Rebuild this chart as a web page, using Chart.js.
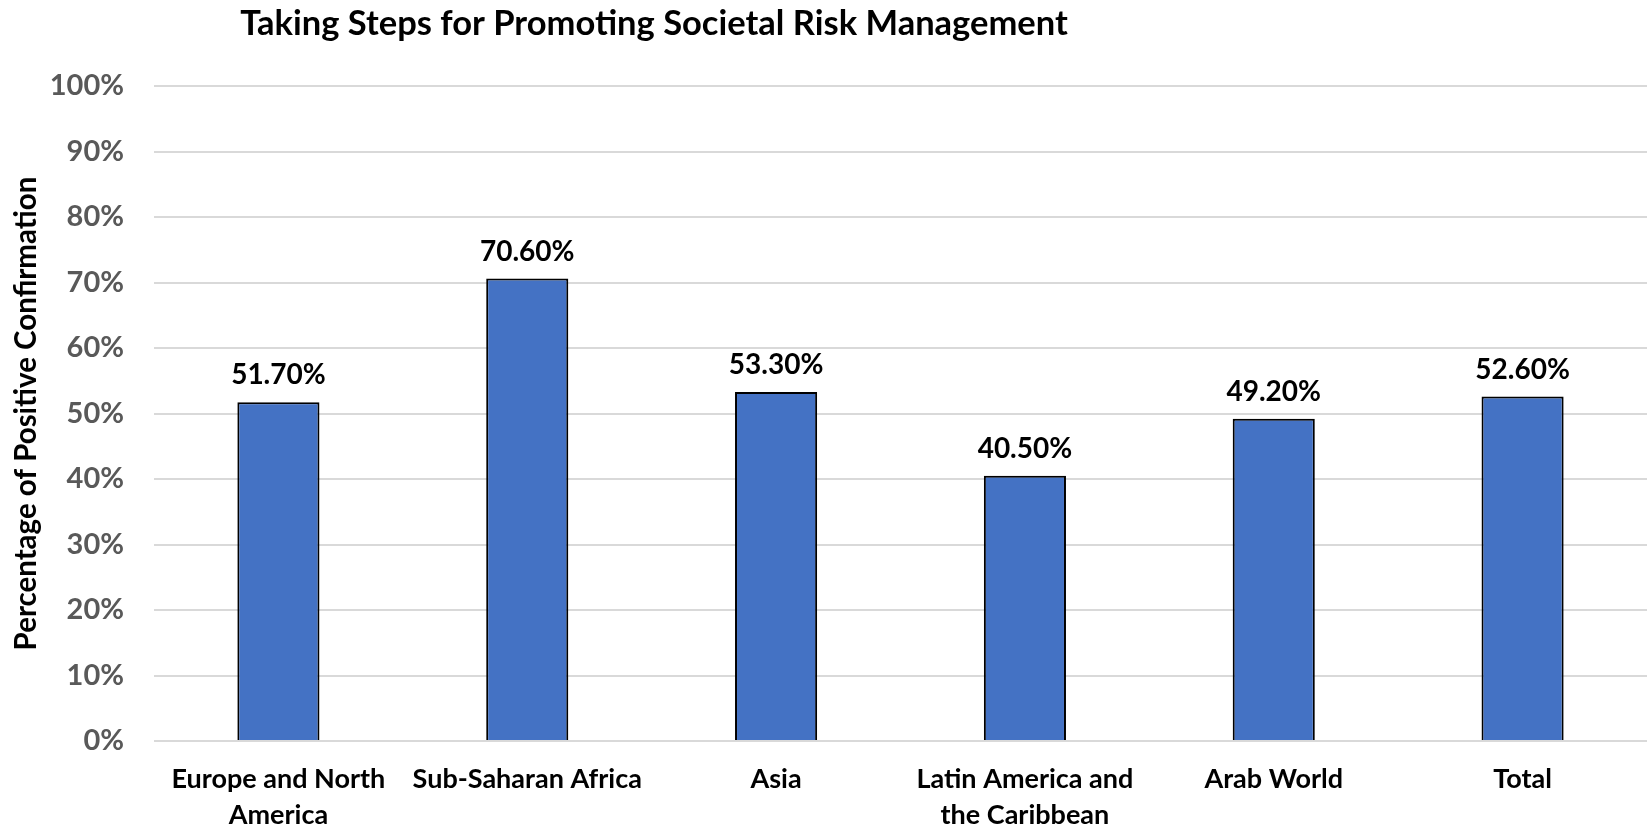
<!DOCTYPE html>
<html>
<head>
<meta charset="utf-8">
<script src="https://cdn.jsdelivr.net/npm/chart.js@4/dist/chart.umd.min.js"></script>
<style>
  html, body { margin: 0; padding: 0; background: #fff; }
  #wrap { width: 1647px; height: 829px; }
</style>
</head>
<body>
<div id="wrap"><canvas id="chart"></canvas></div>
<script>
var chartTitle = 'Taking Steps for Promoting Societal Risk Management'
var axisTitle = 'Percentage of Positive Confirmation'
var regions = [
  ['Europe and North', 'America'],
  'Sub-Saharan Africa',
  'Asia',
  ['Latin America and', 'the Caribbean'],
  'Arab World',
  'Total'
]
var confirmed = [51.7, 70.6, 53.3, 40.5, 49.2, 52.6]
var yTicks = [0, 10, 20, 30, 40, 50, 60, 70, 80, 90, 100]

var FONT = 'Lato, "Open Sans", sans-serif'

// bar value labels, drawn over each bar
var valueLabels = {
  id: 'valueLabels',
  afterDatasetsDraw: function (chart) {
    var ctx = chart.ctx
    var meta = chart.getDatasetMeta(0)
    ctx.save()
    ctx.font = 'bold 28px ' + FONT
    ctx.fillStyle = '#000'
    ctx.textAlign = 'center'
    ctx.textBaseline = 'bottom'
    meta.data.forEach(function (bar, i) {
      ctx.fillText(confirmed[i].toFixed(2) + '%', bar.x, bar.y - 13)
    })
    ctx.restore()
  }
}

// title sits left of centre in the original, so draw it by hand
var leftTitle = {
  id: 'leftTitle',
  afterDraw: function (chart) {
    var ctx = chart.ctx
    ctx.save()
    ctx.font = 'bold 34.5px ' + FONT
    ctx.fillStyle = '#000'
    ctx.textAlign = 'center'
    ctx.textBaseline = 'middle'
    ctx.fillText(chartTitle, chart.chartArea.left + 500, 24)
    ctx.restore()
  }
}

new Chart(document.getElementById('chart'), {
  type: 'bar',
  data: {
    labels: regions,
    datasets: [{
      data: confirmed,
      backgroundColor: '#4472C4',
      borderColor: '#000',
      borderWidth: 2,
      categoryPercentage: 1,
      barPercentage: 0.33
    }]
  },
  options: {
    responsive: true,
    maintainAspectRatio: false,
    animation: false,
    layout: { padding: { top: 86, right: 0, bottom: 0, left: 0 } },
    plugins: {
      legend: { display: false },
      tooltip: { enabled: false },
      title: { display: false }
    },
    scales: {
      x: {
        grid: { display: false },
        border: { display: false },
        ticks: {
          color: '#000',
          padding: 12,
          maxRotation: 0,
          autoSkip: false,
          font: { family: FONT, size: 27, weight: 'bold', lineHeight: 1.33 }
        },
        afterFit: function (scale) { scale.height = 88 }
      },
      y: {
        min: 0,
        max: 100,
        afterBuildTicks: function (scale) {
          scale.ticks = yTicks.map(function (v) { return { value: v } })
        },
        grid: { color: '#D9D9D9', lineWidth: 2, tickLength: 0 },
        border: { display: false },
        ticks: {
          color: '#595959',
          padding: 30,
          font: { family: FONT, size: 29, weight: 'bold' },
          callback: function (v) { return v + '%' }
        },
        title: {
          display: true,
          text: axisTitle,
          color: '#000',
          padding: { top: 9, bottom: 0 },
          font: { family: FONT, size: 29.5, weight: 'bold' }
        },
        afterFit: function (scale) { scale.width = 154 }
      }
    }
  },
  plugins: [valueLabels, leftTitle]
})
</script>
</body>
</html>
